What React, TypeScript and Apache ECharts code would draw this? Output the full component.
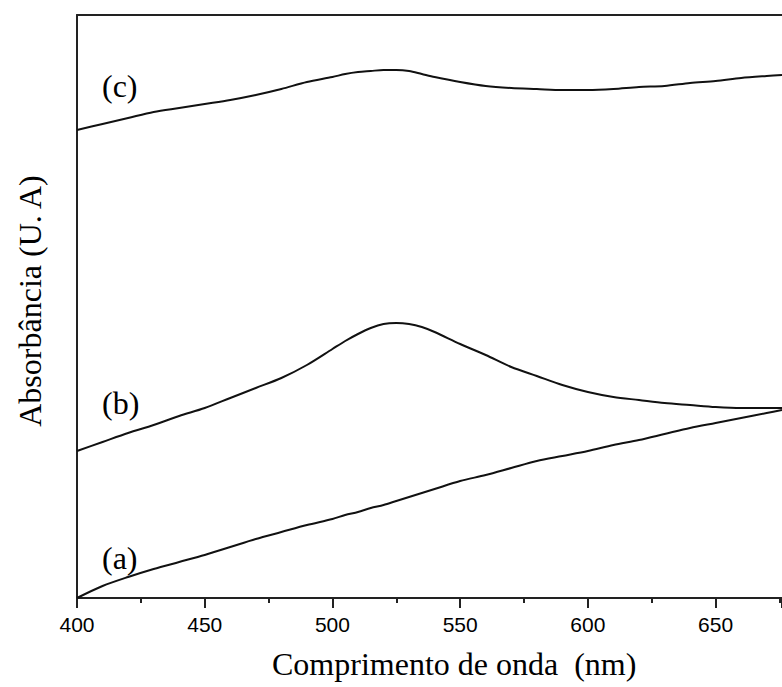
import React, { useEffect, useRef } from "react";
import * as echarts from "echarts";

const wavelengths = [400, 410, 420, 430, 440, 450, 460, 470, 480, 490, 500, 505, 510, 515, 520, 525, 530, 535, 540, 550, 560, 570, 580, 590, 600, 610, 620, 630, 640, 650, 660, 670, 676];
const curveA = [0, 12, 21, 29, 36, 43, 51, 59, 66, 73, 79, 83, 86, 90, 93, 97, 101, 105, 109, 117, 123, 130, 137, 142, 147, 153, 158, 164, 170, 175, 180, 185, 188];
const curveB = [147, 156, 165, 173, 182, 190, 200, 210, 220, 233, 249, 257, 264, 270, 274, 275, 274, 271, 266, 254, 243, 231, 222, 213, 206, 201, 198, 195, 193, 191, 190, 190, 190];
const curveC = [468, 474, 480, 486, 490, 494, 498, 503, 509, 516, 521, 524, 526, 527, 528, 528, 527, 524, 521, 516, 512, 510, 509, 508, 508, 509, 511, 512, 515, 517, 520, 522, 523];
const seriesLabels = ["(a)", "(b)", "(c)"];
const xTitle = "Comprimento de onda  (nm)";
const yTitle = "Absorbância (U. A)";

const serif = "'Liberation Serif', 'Times New Roman', serif";
const sans = "'Liberation Sans', Arial, sans-serif";

export default function App() {
  const ref = useRef<HTMLDivElement>(null);
  useEffect(() => {
    if (!ref.current) return;
    const chart = echarts.init(ref.current, null, { renderer: "svg" });
    const mk = (vals: number[], name: string) => ({
      type: "line",
      name,
      data: wavelengths.map((w, i) => [w, vals[i]]),
      showSymbol: false,
      smooth: 0.3,
      lineStyle: { color: "#111", width: 2 },
      silent: true,
    });
    chart.setOption({
      animation: false,
      backgroundColor: "#fff",
      grid: { left: 77, right: 0, top: 15, bottom: 89 },
      xAxis: [
        {
          type: "value",
          min: 400,
          max: 676,
          interval: 50,
          position: "bottom",
          axisLine: { show: true, lineStyle: { color: "#222", width: 2 } },
          axisTick: { show: true, length: 10, lineStyle: { color: "#222", width: 2 } },
          minorTick: { show: true, splitNumber: 2, length: 5, lineStyle: { color: "#222", width: 2 } },
          axisLabel: {
            showMaxLabel: false,
            margin: 16,
            color: "#000",
            fontSize: 21,
            fontFamily: sans,
            formatter: (v: number) => (v % 50 === 0 ? String(v) : ""),
          },
          splitLine: { show: false },
        },
        {
          type: "value",
          min: 400,
          max: 676,
          position: "top",
          axisLine: { show: true, lineStyle: { color: "#222", width: 2 } },
          axisTick: { show: false },
          axisLabel: { show: false },
          splitLine: { show: false },
        },
      ],
      yAxis: {
        type: "value",
        min: 0,
        max: 583,
        axisLine: { show: true, lineStyle: { color: "#222", width: 2 } },
        axisTick: { show: false },
        axisLabel: { show: false },
        splitLine: { show: false },
      },
      series: [mk(curveA, "a"), mk(curveB, "b"), mk(curveC, "c")],
      graphic: [
        { type: "text", left: 102, top: 86 - 16, style: { text: seriesLabels[2], font: `32px ${serif}`, fill: "#000" } },
        { type: "text", left: 102, top: 403 - 16, style: { text: seriesLabels[1], font: `32px ${serif}`, fill: "#000" } },
        { type: "text", left: 102, top: 558 - 16, style: { text: seriesLabels[0], font: `32px ${serif}`, fill: "#000" } },
        { type: "text", left: 272, top: 664 - 16, style: { text: xTitle, font: `32px ${serif}`, fill: "#000" } },
        {
          type: "text",
          x: 30,
          y: 301,
          rotation: Math.PI / 2,
          style: { text: yTitle, font: `32px ${serif}`, fill: "#000", align: "center", verticalAlign: "middle" },
        },
      ],
    });
    return () => chart.dispose();
  }, []);
  return <div ref={ref} style={{ position: "absolute", left: 0, top: 0, width: 782, height: 687 }} />;
}
